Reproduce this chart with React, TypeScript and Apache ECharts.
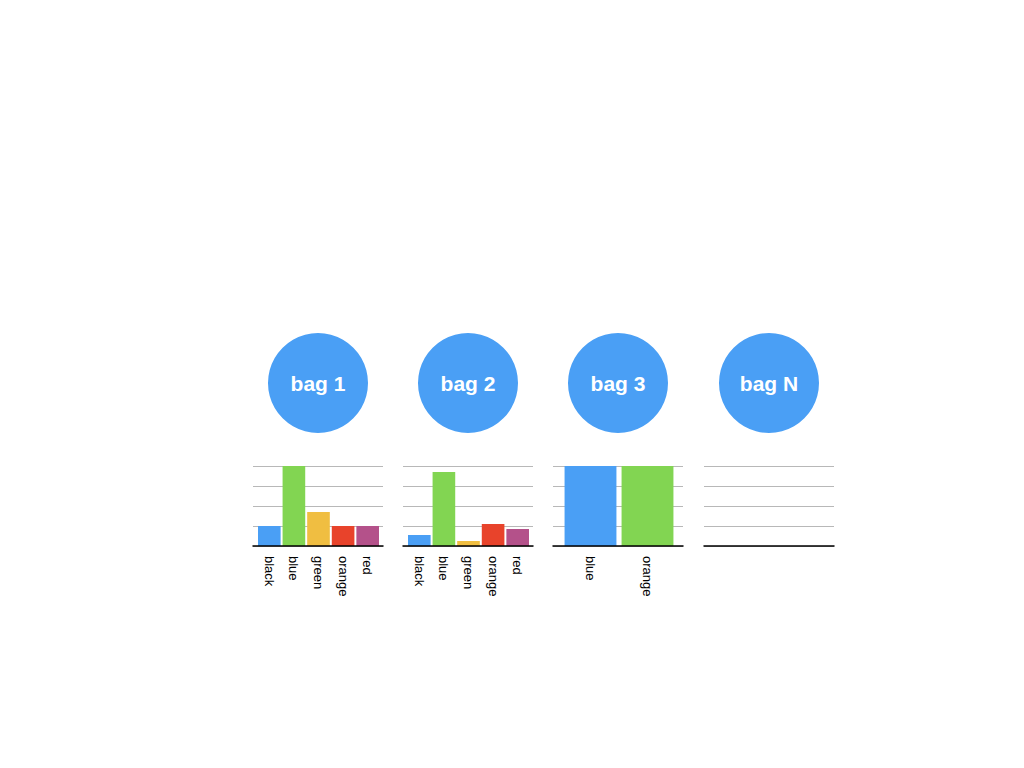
import React, { useEffect, useRef } from "react";
import * as echarts from "echarts";

const bagNames = ["bag 1", "bag 2", "bag 3", "bag N"];
const bag1Cats = ["black", "blue", "green", "orange", "red"];
const bag1Vals = [1, 4, 1.7, 1, 1];
const bag2Cats = ["black", "blue", "green", "orange", "red"];
const bag2Vals = [0.55, 3.7, 0.25, 1.1, 0.85];
const bag3Cats = ["blue", "orange"];
const bag3Vals = [4, 4];
const bagNCats: string[] = [];
const bagNVals: number[] = [];
const yTicks = [0, 1, 2, 3, 4];

const palette = ["#4A9FF5", "#82D552", "#F0BE41", "#E8432B", "#B4518A"];
const circleColor = "#4A9FF5";
const fontFamily = "'Liberation Sans', Arial, Helvetica, sans-serif";

const cats = [bag1Cats, bag2Cats, bag3Cats, bagNCats];
const vals = [bag1Vals, bag2Vals, bag3Vals, bagNVals];
const frameLefts = [253, 403, 553, 704];
const barLefts = [257, 407, 562, 708];
const barWidths = [123, 123, 114, 121];
const gaps = ["8%", "8%", "9%", "8%"];
const circleX = [318, 468, 618, 769];

export default function App() {
  const ref = useRef<HTMLDivElement>(null);
  useEffect(() => {
    if (!ref.current) return;
    const chart = echarts.init(ref.current, null, { renderer: "svg" });
    const n = cats.length;
    const grids = [
      ...frameLefts.map((l) => ({ left: l, top: 466, width: 130, height: 80 })),
      ...barLefts.map((l, i) => ({ left: l, top: 466, width: barWidths[i], height: 80 })),
    ];
    const yMin = yTicks[0];
    const yMax = yTicks[yTicks.length - 1];
    const xAxis = [
      ...cats.map((_, i) => ({
        type: "category",
        gridIndex: i,
        data: [],
        axisLine: { show: true, lineStyle: { color: "#000", width: 1.5 } },
        axisTick: { show: false },
        axisLabel: { show: false },
        z: 5,
      })),
      ...cats.map((c, i) => ({
        type: "category",
        gridIndex: n + i,
        data: c,
        axisLine: { show: false },
        axisTick: { show: false },
        axisLabel: {
          rotate: -90,
          margin: 10,
          color: "#000",
          fontSize: 13,
          fontFamily,
          interval: 0,
        },
      })),
    ];
    const yAxis = [
      ...cats.map((_, i) => ({
        type: "value",
        gridIndex: i,
        min: yMin,
        max: yMax,
        interval: 1,
        axisLine: { show: false },
        axisTick: { show: false },
        axisLabel: { show: false },
        splitLine: { show: true, lineStyle: { color: "#b8b8b8", width: 1 } },
      })),
      ...cats.map((_, i) => ({
        type: "value",
        gridIndex: n + i,
        min: yMin,
        max: yMax,
        interval: 1,
        axisLine: { show: false },
        axisTick: { show: false },
        axisLabel: { show: false },
        splitLine: { show: false },
      })),
    ];
    const series = vals.map((v, i) => ({
      type: "bar",
      xAxisIndex: n + i,
      yAxisIndex: n + i,
      data: v,
      barCategoryGap: gaps[i],
      itemStyle: { color: (p: any) => palette[p.dataIndex % palette.length] },
    }));
    const graphic = bagNames.flatMap((name, i) => [
      {
        type: "circle",
        shape: { cx: circleX[i], cy: 383, r: 50 },
        style: { fill: circleColor },
        silent: true,
      },
      {
        type: "text",
        x: circleX[i],
        y: 383,
        style: {
          text: name,
          fill: "#fff",
          font: `bold 21px ${fontFamily}`,
          align: "center",
          verticalAlign: "middle",
        },
        silent: true,
      },
    ]);
    chart.setOption({
      animation: false,
      backgroundColor: "#fff",
      grid: grids,
      xAxis,
      yAxis,
      series,
      graphic,
    });
    return () => chart.dispose();
  }, []);
  return (
    <div
      ref={ref}
      style={{ position: "fixed", left: 0, top: 0, width: 1024, height: 768, background: "#fff" }}
    />
  );
}
